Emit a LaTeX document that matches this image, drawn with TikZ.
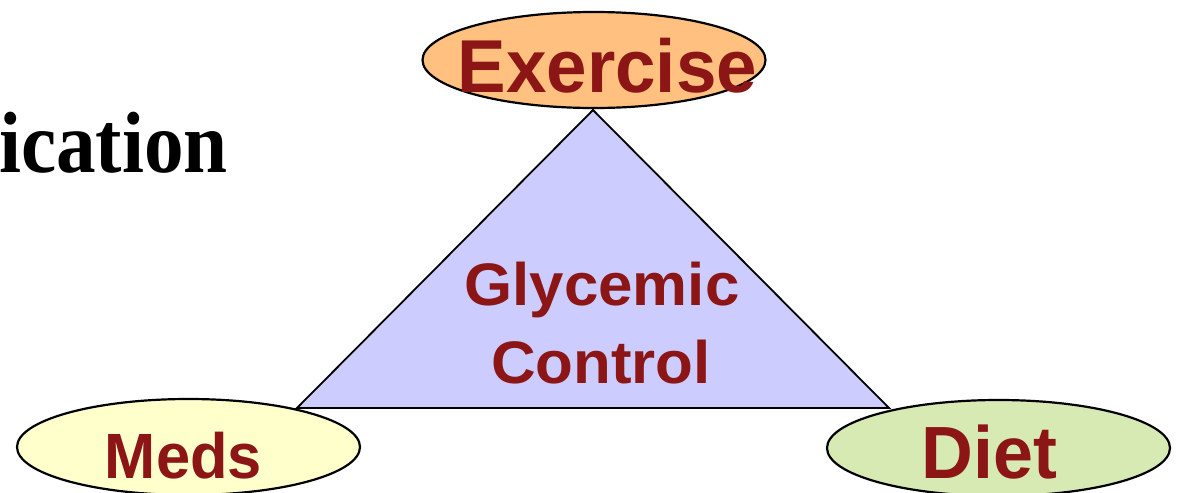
\documentclass[tikz,border=0pt]{standalone}
\usepackage{fontspec}
\setmainfont{Liberation Sans}
\newfontfamily\timesf{Liberation Serif}
\usetikzlibrary{shapes.geometric}
\definecolor{txtred}{RGB}{140,21,21}
\definecolor{exfill}{RGB}{255,192,128}
\definecolor{medfill}{RGB}{255,255,204}
\definecolor{dietfill}{RGB}{216,234,180}
\definecolor{trifill}{RGB}{204,204,255}
\tikzset{
  oval/.style={ellipse, draw=black, line width=2.2pt, inner sep=0pt, minimum width=343pt, minimum height=96pt},
  lbl/.style={anchor=base, inner sep=0pt, text=txtred, font=\bfseries},
}
\begin{document}
\begin{tikzpicture}[x=1pt,y=-1pt]
\useasboundingbox (0,0) rectangle (1179,493);
\node[anchor=base east, inner sep=0pt, font=\timesf\bfseries\fontsize{87}{90}\selectfont] (title) at (228,172) {\scalebox{0.91}[1]{ication}};
\coordinate (bl) at (297,408);
\coordinate (br) at (889,408);
\coordinate (top) at (593,110);
\draw[fill=trifill, line width=1.8pt, line join=miter] (top) -- (br) -- (bl) -- cycle;
\node[oval, fill=exfill] (ex) at (594,60) {};
\node[oval, fill=medfill] (meds) at (188.5,447) {};
\node[oval, fill=dietfill] (diet) at (998.5,448) {};
\node[lbl, font=\bfseries\fontsize{75}{80}\selectfont] (extxt) at (607.5,92) {\scalebox{0.97}[1]{Exercise}};
\node[lbl, font=\bfseries\fontsize{64}{70}\selectfont] (medtxt) at (183.5,478) {\scalebox{0.96}[1]{Meds}};
\node[lbl, font=\bfseries\fontsize{74}{80}\selectfont] (diettxt) at (989.5,478) {\scalebox{0.97}[1]{Diet}};
\node[lbl, font=\bfseries\fontsize{60}{70}\selectfont] (gly) at (602,305) {\scalebox{1.03}[1]{Glycemic}};
\node[lbl, font=\bfseries\fontsize{60}{70}\selectfont] (ctl) at (601,383) {\scalebox{1.03}[1]{Control}};
\end{tikzpicture}
\end{document}
